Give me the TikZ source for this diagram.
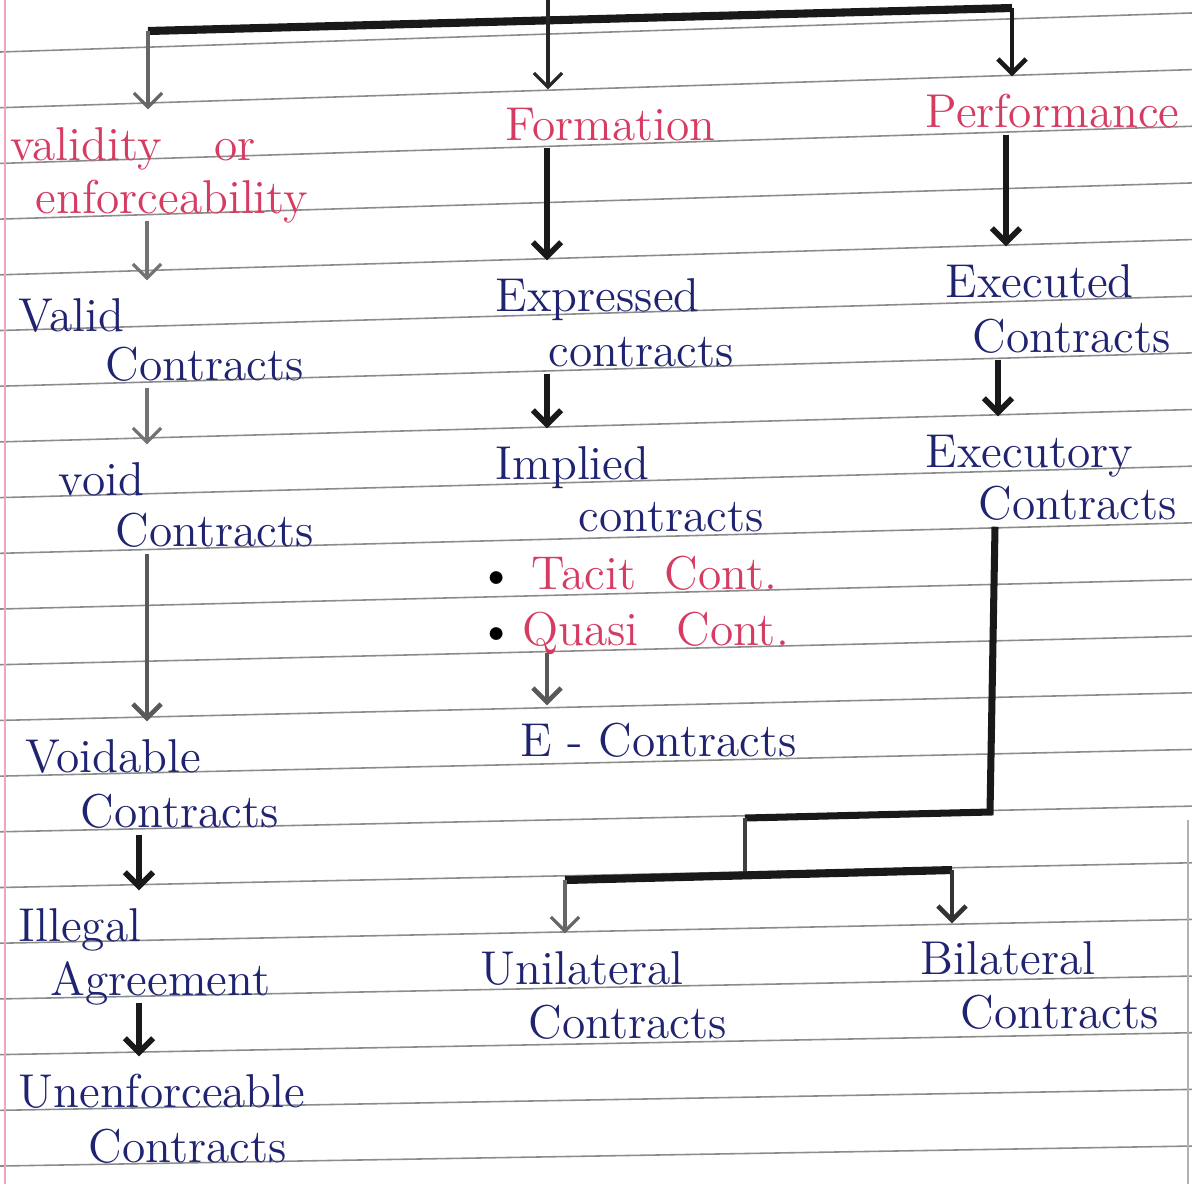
\documentclass[tikz,border=0pt]{standalone}
\usetikzlibrary{arrows.meta}
\definecolor{ink}{HTML}{1F2370}
\definecolor{rose}{HTML}{D63B62}
\definecolor{rule}{HTML}{8C8C8C}
\begin{document}
\begin{tikzpicture}[x=0.01cm,y=-0.01cm,
    every node/.style={inner sep=0,anchor=base west,text height=0.5cm,text depth=0.07cm,
        font=\fontsize{13.5}{16}\selectfont,text=ink},
    head/.style={text=rose},
    pen/.style={draw=black!70,line width=0.9pt,-{Straight Barb[length=4pt,width=8pt]}},
    marker/.style={draw=black!90,line width=1.6pt,-{Straight Barb[length=4pt,width=8pt]}},
    bar/.style={draw=black!90,line width=2.3pt}]
    \useasboundingbox (0,0) rectangle (1192,1184);
    \fill[white] (0,0) rectangle (1192,1184);
    \foreach \k in {1,...,21}
        \draw[rule,line width=0.45pt] (0,{52+55.7*(\k-1)}) -- (1192,{52+55.7*(\k-1)-40+20*\k/21});
    \draw[rose!45,line width=0.5pt] (5,0) -- (5,1184);
    \draw[black!30,line width=0.4pt] (1188,820) -- (1188,1184);

    \node[head] (validity) at (10,160) {validity\hspace{1.1em}or};
    \node[head] (enforce) at (35,213) {enforceability};
    \node[head] (formation) at (505,140) {Formation};
    \node[head] (performance) at (925,127) {Performance};

    \node (valid) at (18,331) {Valid};
    \node (validc) at (105,380) {Contracts};
    \node (void) at (58,495) {void};
    \node (voidc) at (115,546) {Contracts};
    \node (voidable) at (25,772) {Voidable};
    \node (voidablec) at (80,827) {Contracts};
    \node (illegal) at (18,941) {Illegal};
    \node (agreement) at (50,995) {Agreement};
    \node (unenf) at (18,1107) {Unenforceable};
    \node (unenfc) at (88,1162) {Contracts};

    \node (expressed) at (495,311) {Expressed};
    \node (expressedc) at (548,366) {contracts};
    \node (implied) at (495,479) {Implied};
    \node (impliedc) at (578,531) {contracts};
    \node (tacit) at (478,589) {\textcolor{black}{\textbullet}\hspace{0.35em}\textcolor{rose}{Tacit\hspace{0.6em}Cont.}};
    \node (quasi) at (478,645) {\textcolor{black}{\textbullet}\hspace{0.15em}\textcolor{rose}{Quasi\hspace{0.8em}Cont.}};
    \node (econ) at (520,756) {E - Contracts};

    \node (executed) at (945,297) {Executed};
    \node (executedc) at (972,352) {Contracts};
    \node (executory) at (925,467) {Executory};
    \node (executoryc) at (978,519) {Contracts};
    \node (unilateral) at (480,984) {Unilateral};
    \node (unilateralc) at (528,1038) {Contracts};
    \node (bilateral) at (920,974) {Bilateral};
    \node (bilateralc) at (960,1028) {Contracts};

    \coordinate (top) at (548,0);
    \coordinate (barL) at (148,31);
    \coordinate (barR) at (1012,8);
    \coordinate (colL) at (147,0);
    \coordinate (colLL) at (139,0);
    \coordinate (colM) at (547,0);
    \coordinate (colR) at (1006,0);
    \coordinate (colRR) at (998,0);
    \coordinate (colX) at (995,0);
    \coordinate (bendA) at (990,812);
    \coordinate (bendB) at (745,818);
    \coordinate (fork) at (745,876);
    \coordinate (uniTop) at (565,880);
    \coordinate (biTop) at (952,870);

    \draw[bar] (barL) -- (barR);
    \draw[pen,black!85] (top) -- (formation.north -| top);
    \draw[pen,black!60] (barL) -- (validity.north -| barL);
    \draw[marker,line width=1.3pt] (barR) -- (performance.north -| barR);

    \draw[pen,black!55] (enforce.south -| colL) -- (valid.north -| colL);
    \draw[pen,black!55] (validc.south -| colL) -- (void.north -| colL);
    \draw[pen,black!65,line width=1.3pt] (voidc.south -| colL) -- (voidable.north -| colL);
    \draw[marker] (voidablec.south -| colLL) -- (illegal.north -| colLL);
    \draw[marker] (agreement.south -| colLL) -- (unenf.north -| colLL);

    \draw[marker] (formation.south -| colM) -- (expressed.north -| colM);
    \draw[marker] (expressedc.south -| colM) -- (implied.north -| colM);
    \draw[pen,black!65,line width=1.3pt] (quasi.south -| colM) -- (econ.north -| colM);

    \draw[marker] (performance.south -| colR) -- (executed.north -| colR);
    \draw[marker] (executedc.south -| colRR) -- (executory.north -| colRR);
    \draw[bar,line width=2pt] (executoryc.south -| colX) -- (bendA) -- (bendB);
    \draw[black!75,line width=0.9pt] (bendB) -- (fork);
    \draw[bar] (uniTop) -- (biTop);
    \draw[pen,black!60] (uniTop) -- (unilateral.north -| uniTop);
    \draw[pen,black!80,line width=1.3pt] (biTop) -- (bilateral.north -| biTop);
\end{tikzpicture}
\end{document}
